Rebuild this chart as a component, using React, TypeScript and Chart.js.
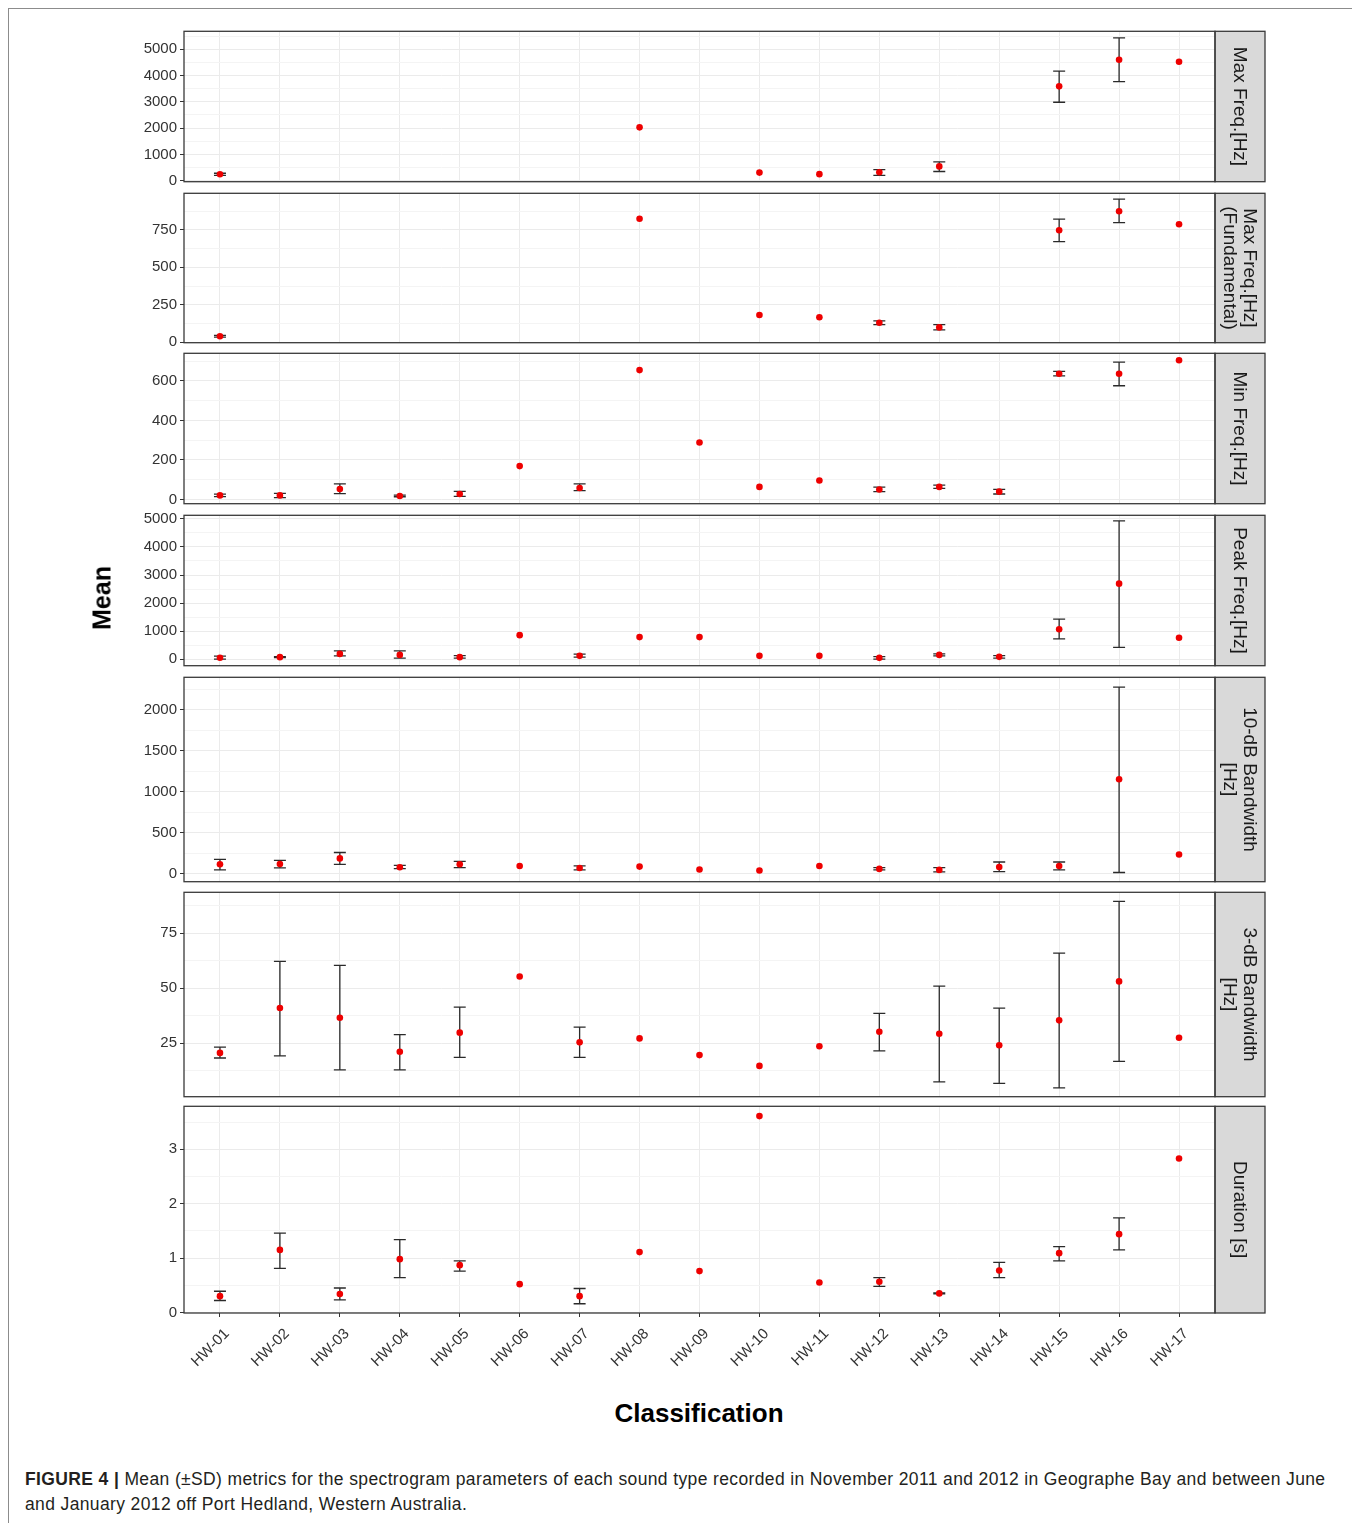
import React, { useEffect, useRef } from "react";
import { Chart, registerables } from "chart.js";

Chart.register(...registerables);

const n = null;

// Categories (x axis)
const categories = [
  "HW-01", "HW-02", "HW-03", "HW-04", "HW-05", "HW-06", "HW-07", "HW-08", "HW-09",
  "HW-10", "HW-11", "HW-12", "HW-13", "HW-14", "HW-15", "HW-16", "HW-17",
];

// Max Freq.[Hz]
const maxFreqMean = [245, n, n, n, n, n, n, 2030, n, 310, 250, 320, 545, n, 3590, 4600, 4525];
const maxFreqLow = [205, n, n, n, n, n, n, n, n, n, n, 200, 350, n, 2985, 3770, n];
const maxFreqHigh = [285, n, n, n, n, n, n, n, n, n, n, 420, 720, n, 4165, 5430, n];
const maxFreqTicks = [0, 1000, 2000, 3000, 4000, 5000];

// Max Freq.[Hz] (Fundamental)
const fundMean = [40, n, n, n, n, n, n, 824, n, 182, 167, 130, 99, n, 747, 874, 787];
const fundLow = [34, n, n, n, n, n, n, n, n, n, n, 117, 82, n, 671, 798, n];
const fundHigh = [46, n, n, n, n, n, n, n, n, n, n, 143, 117, n, 822, 955, n];
const fundTicks = [0, 250, 500, 750];

// Min Freq.[Hz]
const minFreqMean = [21, 21, 53, 18, 28, 169, 58, 654, 288, 64, 96, 51, 64, 40, 636, 636, 704];
const minFreqLow = [15, 10, 30, 14, 16, n, 45, n, n, n, n, 40, 56, 28, 625, 575, n];
const minFreqHigh = [27, 31, 79, 22, 41, n, 79, n, n, n, n, 63, 73, 51, 648, 694, n];
const minFreqTicks = [0, 200, 400, 600];

// Peak Freq.[Hz]
const peakMean = [50, 70, 186, 151, 70, 854, 116, 785, 785, 116, 116, 45, 151, 81, 1065, 2692, 760];
const peakLow = [0, 50, 116, 35, 35, n, 70, n, n, n, n, 0, 116, 35, 724, 421, n];
const peakHigh = [110, 90, 292, 292, 127, n, 176, n, n, n, n, 92, 186, 127, 1427, 4930, n];
const peakTicks = [0, 1000, 2000, 3000, 4000, 5000];

// 10-dB Bandwidth [Hz]
const bw10Mean = [112, 116, 184, 76, 112, 92, 68, 84, 48, 36, 92, 56, 44, 80, 92, 1150, 232];
const bw10Low = [44, 68, 112, 60, 72, n, 44, n, n, n, n, 44, 20, 24, 44, 12, n];
const bw10High = [172, 160, 256, 100, 148, n, 92, n, n, n, n, 72, 72, 140, 140, 2272, n];
const bw10Ticks = [0, 500, 1000, 1500, 2000];

// 3-dB Bandwidth [Hz]
const bw3Mean = [20.6, 41, 36.6, 21.1, 29.8, 55.3, 25.4, 27.2, 19.6, 14.7, 23.6, 30.2, 29.3, 24.1, 35.4, 53.1, 27.5];
const bw3Low = [18.3, 19.3, 12.9, 12.9, 18.6, n, 18.6, n, n, n, n, 21.5, 7.4, 6.8, 4.7, 16.8, n];
const bw3High = [23.2, 62.2, 60.4, 28.9, 41.4, n, 32.3, n, n, n, n, 38.6, 51, 41, 66, 89.5, n];
const bw3Ticks = [25, 50, 75];

// Duration [s]
const durMean = [0.3, 1.15, 0.34, 0.98, 0.87, 0.52, 0.3, 1.11, 0.76, 3.61, 0.55, 0.565, 0.35, 0.77, 1.09, 1.44, 2.83];
const durLow = [0.22, 0.81, 0.23, 0.64, 0.76, n, 0.16, n, n, n, n, 0.48, 0.34, 0.64, 0.95, 1.15, n];
const durHigh = [0.39, 1.46, 0.45, 1.34, 0.95, n, 0.44, n, n, n, n, 0.64, 0.36, 0.92, 1.21, 1.74, n];
const durTicks = [0, 1, 2, 3];

type Spec = {
  strip: string[];
  mean: (number | null)[];
  low: (number | null)[];
  high: (number | null)[];
  ticks: number[];
  min: number;
  max: number;
  top: number;
  bottom: number;
};

const panels: Spec[] = [
  { strip: ["Max Freq.[Hz]"], mean: maxFreqMean, low: maxFreqLow, high: maxFreqHigh, ticks: maxFreqTicks, min: -37, max: 5683, top: 30, bottom: 183 },
  { strip: ["Max Freq.[Hz]", "(Fundamental)"], mean: fundMean, low: fundLow, high: fundHigh, ticks: fundTicks, min: -3, max: 994, top: 192, bottom: 344 },
  { strip: ["Min Freq.[Hz]"], mean: minFreqMean, low: minFreqLow, high: minFreqHigh, ticks: minFreqTicks, min: -21, max: 739, top: 352, bottom: 505 },
  { strip: ["Peak Freq.[Hz]"], mean: peakMean, low: peakLow, high: peakHigh, ticks: peakTicks, min: -235, max: 5130, top: 514, bottom: 667 },
  { strip: ["10-dB Bandwidth", "[Hz]"], mean: bw10Mean, low: bw10Low, high: bw10High, ticks: bw10Ticks, min: -100, max: 2393, top: 676, bottom: 883 },
  { strip: ["3-dB Bandwidth", "[Hz]"], mean: bw3Mean, low: bw3Low, high: bw3High, ticks: bw3Ticks, min: 0.7, max: 93.6, top: 891, bottom: 1098 },
  { strip: ["Duration [s]"], mean: durMean, low: durLow, high: durHigh, ticks: durTicks, min: -0.01, max: 3.79, top: 1105, bottom: 1313 },
];

const FONT = '"Liberation Sans", Arial, Helvetica, sans-serif';
const OFFSET = 9; // body margin + frame border
const CANVAS_LEFT = 100;
const CANVAS_WIDTH = 1175;
const YAXIS_W = 84;
const RIGHT_PAD = 60;
const STRIP_W = 50;
const XAXIS_H = 72;

function withMinors(majors: number[], min: number, max: number): number[] {
  const step = majors.length > 1 ? majors[1] - majors[0] : 1;
  const half = step / 2;
  const out = [...majors];
  for (let i = 0; i < majors.length - 1; i++) out.push(majors[i] + half);
  const below = majors[0] - half;
  const above = majors[majors.length - 1] + half;
  if (below >= min) out.push(below);
  if (above <= max) out.push(above);
  return out.sort((a, b) => a - b);
}

function makeDeco(spec: Spec) {
  return {
    id: "panelDeco",
    beforeDatasetsDraw(chart: any) {
      const { ctx } = chart;
      const xs = chart.scales.x;
      const ys = chart.scales.y;
      ctx.save();
      ctx.strokeStyle = "#2a2a2a";
      ctx.lineWidth = 1.3;
      spec.low.forEach((lo, i) => {
        const hi = spec.high[i];
        if (lo == null || hi == null) return;
        const px = xs.getPixelForValue(i + 1);
        const y1 = ys.getPixelForValue(lo);
        const y2 = ys.getPixelForValue(hi);
        ctx.beginPath();
        ctx.moveTo(px, y1);
        ctx.lineTo(px, y2);
        ctx.moveTo(px - 6, y1);
        ctx.lineTo(px + 6, y1);
        ctx.moveTo(px - 6, y2);
        ctx.lineTo(px + 6, y2);
        ctx.stroke();
      });
      ctx.restore();
    },
    afterDraw(chart: any) {
      const { ctx, chartArea } = chart;
      const { left, top, right, bottom } = chartArea;
      ctx.save();
      // strip
      ctx.fillStyle = "#d9d9d9";
      ctx.fillRect(right, top, STRIP_W, bottom - top);
      ctx.strokeStyle = "#3a3a3a";
      ctx.lineWidth = 1.3;
      ctx.strokeRect(right, top, STRIP_W, bottom - top);
      // panel border
      ctx.strokeRect(left, top, right - left, bottom - top);
      // strip text
      ctx.translate(right + STRIP_W / 2 - 1, (top + bottom) / 2);
      ctx.rotate(Math.PI / 2);
      ctx.fillStyle = "#1a1a1a";
      ctx.font = `19px ${FONT}`;
      ctx.textAlign = "center";
      ctx.textBaseline = "middle";
      const lh = 20;
      const nl = spec.strip.length;
      spec.strip.forEach((s, i) => {
        ctx.fillText(s, 0, (i - (nl - 1) / 2) * lh);
      });
      ctx.restore();
    },
  };
}

function Panel({ spec, isBottom }: { spec: Spec; isBottom: boolean }) {
  const ref = useRef<HTMLCanvasElement>(null);
  const height = spec.bottom - spec.top + 2 + (isBottom ? XAXIS_H : 2);
  useEffect(() => {
    const majors = spec.ticks;
    const all = withMinors(majors, spec.min, spec.max);
    const isMajor = (v: number) => majors.some((m) => Math.abs(m - v) < 1e-9);
    const points = spec.mean
      .map((v, i) => (v == null ? null : { x: i + 1, y: v }))
      .filter((p) => p !== null);
    const chart = new Chart(ref.current as HTMLCanvasElement, {
      type: "scatter",
      data: {
        datasets: [
          {
            data: points as any,
            pointRadius: 3.3,
            pointHoverRadius: 3.3,
            pointBackgroundColor: "#ee0000",
            pointBorderWidth: 0,
          },
        ],
      },
      options: {
        responsive: false,
        animation: false,
        events: [],
        layout: { padding: { top: 2, bottom: isBottom ? 0 : 2, left: 0, right: RIGHT_PAD } },
        plugins: { legend: { display: false }, tooltip: { enabled: false } },
        scales: {
          x: {
            type: "linear",
            min: 0.4,
            max: 17.6,
            bounds: "data",
            border: { display: false },
            grid: {
              color: "#ebebeb",
              lineWidth: 1,
              drawTicks: isBottom,
              tickLength: isBottom ? 4 : 0,
              tickColor: "#333333",
            },
            ticks: {
              display: isBottom,
              autoSkip: false,
              minRotation: 45,
              maxRotation: 45,
              padding: 8,
              labelOffset: 7,
              color: "#333333",
              font: { family: FONT, size: 15 },
              callback: (v: any) => categories[Math.round(Number(v)) - 1] ?? "",
            },
            afterBuildTicks: (s: any) => {
              s.ticks = categories.map((_, i) => ({ value: i + 1 }));
            },
            afterFit: (s: any) => {
              s.height = isBottom ? XAXIS_H : 0;
              s.paddingLeft = 0;
              s.paddingRight = 0;
            },
          },
          y: {
            type: "linear",
            min: spec.min,
            max: spec.max,
            bounds: "data",
            border: { display: false },
            grid: {
              color: (c: any) => (c.tick && isMajor(c.tick.value) ? "#ebebeb" : "#f4f4f4"),
              lineWidth: 1,
              tickLength: 4,
              tickColor: (c: any) => (c.tick && isMajor(c.tick.value) ? "#333333" : "rgba(0,0,0,0)"),
            },
            ticks: {
              autoSkip: false,
              padding: 3,
              color: "#333333",
              font: { family: FONT, size: 15 },
              callback: (v: any) => (isMajor(Number(v)) ? String(v) : ""),
            },
            afterBuildTicks: (s: any) => {
              s.ticks = all.map((v) => ({ value: v }));
            },
            afterFit: (s: any) => {
              s.width = YAXIS_W;
              s.paddingTop = 0;
              s.paddingBottom = 0;
            },
          },
        },
      } as any,
      plugins: [makeDeco(spec)],
    });
    return () => chart.destroy();
  }, []);
  return (
    <canvas
      ref={ref}
      width={CANVAS_WIDTH}
      height={height}
      style={{
        position: "absolute",
        left: CANVAS_LEFT - OFFSET,
        top: spec.top - 2 - OFFSET,
        width: CANVAS_WIDTH,
        height,
        display: "block",
      }}
    />
  );
}

export default function App() {
  return (
    <div
      style={{
        position: "relative",
        width: 1349,
        height: 1515,
        boxSizing: "border-box",
        borderTop: "1px solid #8c8c8c",
        borderLeft: "1px solid #8c8c8c",
        borderRight: "1px solid #8c8c8c",
        background: "#fff",
        fontFamily: FONT,
        overflow: "hidden",
      }}
    >
      {panels.map((p, i) => (
        <Panel key={i} spec={p} isBottom={i === panels.length - 1} />
      ))}
      <div
        style={{
          position: "absolute",
          left: 102 - OFFSET,
          top: 598 - OFFSET,
          transform: "translate(-50%, -50%) rotate(-90deg)",
          fontWeight: "bold",
          fontSize: 25,
          color: "#000",
          whiteSpace: "nowrap",
          lineHeight: 1,
        }}
      >
        Mean
      </div>
      <div
        style={{
          position: "absolute",
          left: 699 - OFFSET,
          top: 1413 - OFFSET,
          transform: "translate(-50%, -50%)",
          fontWeight: "bold",
          fontSize: 26,
          color: "#000",
          whiteSpace: "nowrap",
          lineHeight: 1,
        }}
      >
        Classification
      </div>
      <div
        style={{
          position: "absolute",
          left: 25 - OFFSET,
          top: 1467 - OFFSET,
          fontSize: 17.5,
          letterSpacing: "0.37px",
          lineHeight: "25px",
          color: "#231f20",
          whiteSpace: "nowrap",
        }}
      >
        <b>FIGURE 4 |</b> Mean (±SD) metrics for the spectrogram parameters of each sound type recorded in November 2011 and 2012 in Geographe Bay and between June
        <br />
        and January 2012 off Port Hedland, Western Australia.
      </div>
    </div>
  );
}
